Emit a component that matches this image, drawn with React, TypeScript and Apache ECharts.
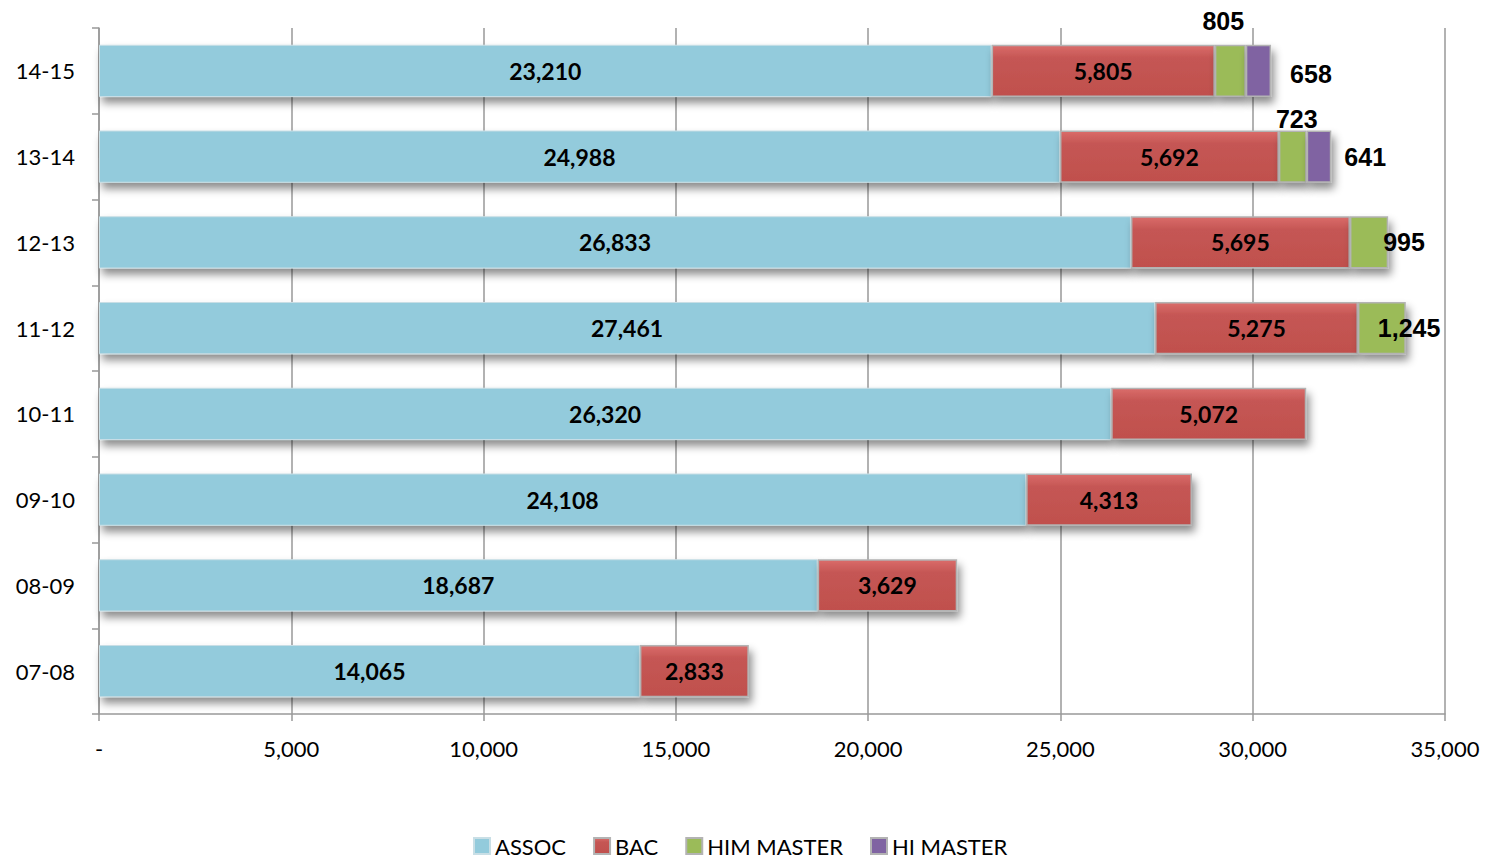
import React, { useEffect, useRef } from "react";
import * as echarts from "echarts";

const categories = ["07-08", "08-09", "09-10", "10-11", "11-12", "12-13", "13-14", "14-15"];
const assoc = [14065, 18687, 24108, 26320, 27461, 26833, 24988, 23210];
const bac = [2833, 3629, 4313, 5072, 5275, 5695, 5692, 5805];
const himMaster = [null, null, null, null, 1245, 995, 723, 805];
const hiMaster = [null, null, null, null, null, null, 641, 658];
const xTicks = [0, 5000, 10000, 15000, 20000, 25000, 30000, 35000];

const FONT = "Lato, 'Open Sans', sans-serif";
const FONT2 = "'Liberation Sans', Arial, sans-serif";
const fmt = (v: number) => (v === 0 ? "-" : v.toLocaleString("en-US"));

const himLabelLayout: Record<number, any> = {
  7: { position: "top", distance: 11, offset: [-7, 0] },
  6: { position: "top", distance: -1, offset: [4, 0] },
  5: { position: "right", distance: -5 },
  4: { position: "right", distance: -28 },
};
const hiLabelLayout: Record<number, any> = {
  7: { position: "right", distance: 19, offset: [0, 3] },
  6: { position: "right", distance: 13 },
};

const fmtLabel = (p: any) => (p.value == null ? "" : Number(p.value).toLocaleString("en-US"));

const labelInner = {
  show: true,
  position: "inside",
  color: "#000",
  fontFamily: FONT,
  fontWeight: "bold" as const,
  fontSize: 23,
  formatter: fmtLabel,
};
const labelOuter = {
  show: true,
  position: "right",
  color: "#000",
  fontFamily: FONT2,
  fontWeight: "bold" as const,
  fontSize: 25,
  formatter: fmtLabel,
};

const shadow = {
  shadowColor: "rgba(0,0,0,0.45)",
  shadowBlur: 9,
  shadowOffsetX: 3,
  shadowOffsetY: 6,
};

export default function App() {
  const ref = useRef<HTMLDivElement>(null);
  useEffect(() => {
    const chart = echarts.init(ref.current!, undefined, { renderer: "svg" });
    const mk = (arr: (number | null)[], layout: Record<number, any>) =>
      arr.map((v, i) =>
        v == null ? null : layout[i] ? { value: v, label: { ...layout[i] } } : { value: v }
      );
    chart.setOption({
      animation: false,
      backgroundColor: "#fff",
      grid: { left: 99, right: 43, top: 28, bottom: 146, containLabel: false },
      legend: {
        top: 834,
        left: 473,
        padding: 0,
        itemWidth: 16,
        itemHeight: 16,
        itemGap: 27,
        icon: "rect",
        textStyle: { fontFamily: FONT, fontSize: 22, lineHeight: 24, color: "#000" },
        data: ["ASSOC", "BAC", "HIM MASTER", "HI MASTER"],
      },
      xAxis: {
        type: "value",
        min: 0,
        max: 35000,
        interval: 5000,
        axisLine: { show: true, lineStyle: { color: "#999", width: 1.5 } },
        axisTick: { show: true, length: 7, lineStyle: { color: "#999", width: 1.5 } },
        splitLine: { show: true, lineStyle: { color: "#999", width: 1.5 } },
        axisLabel: {
          margin: 23,
          fontFamily: FONT,
          fontSize: 22,
          color: "#000",
          formatter: (v: number) => (xTicks.includes(v) ? fmt(v) : ""),
        },
      },
      yAxis: {
        type: "category",
        data: categories,
        axisLine: { show: true, lineStyle: { color: "#999", width: 1.5 } },
        axisTick: { show: true, length: 7, lineStyle: { color: "#999", width: 1.5 } },
        axisLabel: { margin: 24, fontFamily: FONT, fontSize: 22, color: "#000" },
      },
      series: [
        {
          name: "ASSOC",
          type: "bar",
          stack: "t",
          barCategoryGap: "39%",
          data: assoc,
          itemStyle: { color: "#93CBDC", borderColor: "#c9dfe6", borderWidth: 1, ...shadow },
          label: labelInner,
        },
        {
          name: "BAC",
          type: "bar",
          stack: "t",
          data: bac,
          itemStyle: {
            color: new echarts.graphic.LinearGradient(0, 0, 0, 1, [
              { offset: 0, color: "#DA6C6A" },
              { offset: 0.25, color: "#C55654" },
              { offset: 1, color: "#C0504D" },
            ]),
            borderColor: "#b3b3b3",
            borderWidth: 1.5,
            ...shadow,
          },
          label: labelInner,
        },
        {
          name: "HIM MASTER",
          type: "bar",
          stack: "t",
          data: mk(himMaster, himLabelLayout),
          itemStyle: { color: "#9BBB59", borderColor: "#b3b3b3", borderWidth: 1.5, ...shadow },
          label: labelOuter,
        },
        {
          name: "HI MASTER",
          type: "bar",
          stack: "t",
          data: mk(hiMaster, hiLabelLayout),
          itemStyle: { color: "#8064A2", borderColor: "#b3b3b3", borderWidth: 1.5, ...shadow },
          label: labelOuter,
        },
      ],
    });
    return () => chart.dispose();
  }, []);
  return (
    <div
      ref={ref}
      style={{ position: "fixed", left: 0, top: 0, width: 1488, height: 860, background: "#fff" }}
    />
  );
}
